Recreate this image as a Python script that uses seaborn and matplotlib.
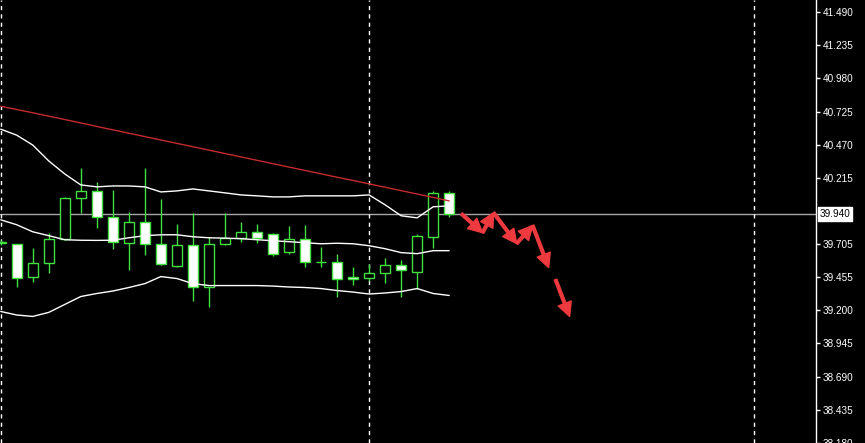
import matplotlib
matplotlib.use("Agg")
import matplotlib.pyplot as plt
import pandas as pd
import seaborn as sns

# Candles, oldest first (bar 0 sits on the left edge of the chart)
opens = [39.726, 39.710, 39.458, 39.565, 39.749, 40.062, 40.116, 39.917, 39.718, 39.879,
         39.710, 39.542, 39.703, 39.381, 39.710, 39.756, 39.802, 39.787, 39.649, 39.749,
         39.573, 39.573, 39.458, 39.450, 39.489, 39.550, 39.496, 39.764, 40.101]
highs = [39.741, 39.712, 39.680, 39.795, 40.070, 40.292, 40.185, 40.124, 39.955, 40.292,
         40.055, 39.863, 39.948, 39.764, 39.948, 39.879, 39.863, 39.795, 39.848, 39.856,
         39.688, 39.634, 39.534, 39.557, 39.603, 39.588, 39.787, 40.116, 40.116]
lows = [39.703, 39.381, 39.420, 39.489, 39.741, 39.948, 39.833, 39.672, 39.512, 39.626,
        39.550, 39.534, 39.267, 39.228, 39.703, 39.726, 39.718, 39.619, 39.634, 39.534,
        39.534, 39.305, 39.397, 39.427, 39.412, 39.305, 39.359, 39.680, 39.917]
closes = [39.718, 39.450, 39.565, 39.749, 40.062, 40.116, 39.917, 39.726, 39.879, 39.710,
          39.557, 39.703, 39.381, 39.710, 39.756, 39.802, 39.756, 39.634, 39.749, 39.573,
          39.570, 39.443, 39.443, 39.489, 39.550, 39.512, 39.772, 40.101, 39.940]

# Bollinger bands
bb_upper = [40.590, 40.544, 40.468, 40.346, 40.246, 40.162, 40.147, 40.154, 40.154, 40.147,
            40.108, 40.116, 40.131, 40.116, 40.101, 40.085, 40.078, 40.070, 40.070, 40.078,
            40.078, 40.078, 40.078, 40.085, 40.009, 39.925, 39.909, 39.994, 40.001]
bb_middle = [39.894, 39.856, 39.802, 39.772, 39.741, 39.737, 39.736, 39.737, 39.756, 39.772,
             39.779, 39.779, 39.764, 39.756, 39.753, 39.749, 39.741, 39.733, 39.726, 39.718,
             39.710, 39.714, 39.710, 39.695, 39.672, 39.642, 39.634, 39.657, 39.657]
bb_lower = [39.190, 39.163, 39.152, 39.183, 39.244, 39.305, 39.328, 39.347, 39.374, 39.404,
            39.458, 39.443, 39.404, 39.389, 39.389, 39.389, 39.389, 39.385, 39.378, 39.374,
            39.366, 39.351, 39.339, 39.324, 39.332, 39.343, 39.366, 39.328, 39.313]

# slow moving average (red)
ma_slow = [40.766, 40.741, 40.716, 40.690, 40.664, 40.638, 40.611, 40.585, 40.559, 40.533,
           40.507, 40.481, 40.455, 40.429, 40.403, 40.377, 40.351, 40.325, 40.299, 40.273,
           40.247, 40.221, 40.196, 40.170, 40.144, 40.118, 40.092, 40.066, 40.039]

price_ticks = [41.490, 41.235, 40.980, 40.725, 40.470, 40.215, 39.705, 39.455,
               39.200, 38.945, 38.690, 38.435, 38.180]
last_price = 39.940
separators = [0, 23, 47]

# hand drawn forecast arrows (bar, price)
arrow_zigzag = [(28.77, 39.940), (30.08, 39.795), (30.77, 39.948), (32.21, 39.712),
                (33.21, 39.850), (34.21, 39.527)]
arrow_last = [(34.64, 39.435), (35.52, 39.152)]

GREEN = "#3fe03f"
RED_ARROW = "#ee3a3e"

sns.set_style("dark", {"axes.facecolor": "black", "figure.facecolor": "black"})
plt.rcParams["font.family"] = ["Liberation Sans", "DejaVu Sans"]

fig = plt.figure(figsize=(8.65, 4.43), dpi=100)
ax = fig.add_axes([0, 0, 816 / 865, 1])
ax.set_facecolor("black")

# current price line and period separators
ax.axhline(last_price, color="#a8a8a8", lw=1, zorder=1)
for s in separators:
    ax.axvline(s, color="white", lw=1, ls=(0, (3, 3)), zorder=1)

# candles
for i in range(len(opens)):
    o, h, l, c = opens[i], highs[i], lows[i], closes[i]
    ax.vlines(i, l, h, color=GREEN, lw=1, zorder=2)
    body = max(abs(c - o), 0.002)
    face = "white" if c < o else "black"
    ax.bar(i, body, bottom=min(o, c), width=0.62, facecolor=face,
           edgecolor=GREEN, lw=1, zorder=3)

# indicators on top
bands = pd.DataFrame({
    "bar": range(len(bb_upper)),
    "upper": bb_upper,
    "middle": bb_middle,
    "lower": bb_lower,
    "ma": ma_slow,
})
for col in ["upper", "middle", "lower"]:
    sns.lineplot(data=bands, x="bar", y=col, color="white", lw=1,
                 estimator=None, ax=ax, zorder=4)
sns.lineplot(data=bands, x="bar", y="ma", color="#c42a2e", lw=1,
             estimator=None, ax=ax, zorder=4)

# forecast arrows
arrow_style = "simple,head_length=1.0,head_width=1.0,tail_width=0.2"
segments = list(zip(arrow_zigzag[:-1], arrow_zigzag[1:])) + [(arrow_last[0], arrow_last[1])]
for start, end in segments:
    ax.annotate("", xy=end, xytext=start,
                arrowprops=dict(arrowstyle=arrow_style, color=RED_ARROW,
                                shrinkA=0, shrinkB=0, mutation_scale=10),
                zorder=5)

ax.set_xlim(-0.044, 50.9)
ax.set_ylim(38.183, 41.582)

ax.set_xlabel("")
ax.set_ylabel("")
ax.set_xticks([])
ax.yaxis.tick_right()
ax.set_yticks(price_ticks)
ax.set_yticklabels([f"{v:.3f}" for v in price_ticks])
ax.tick_params(axis="y", colors="white", length=3, width=1, pad=2, labelsize=7.2)
ax.grid(False)
for side in ["top", "bottom", "left"]:
    ax.spines[side].set_visible(False)
ax.spines["right"].set_color("white")
ax.spines["right"].set_linewidth(1)

# price label box
ax.text(1.004, last_price, f"{last_price:.3f}", transform=ax.get_yaxis_transform(),
        color="black", fontsize=7.2, va="center", ha="left", clip_on=False,
        bbox=dict(facecolor="white", edgecolor="white", pad=1.2))

fig.savefig("out.png", dpi=100, facecolor="black")
